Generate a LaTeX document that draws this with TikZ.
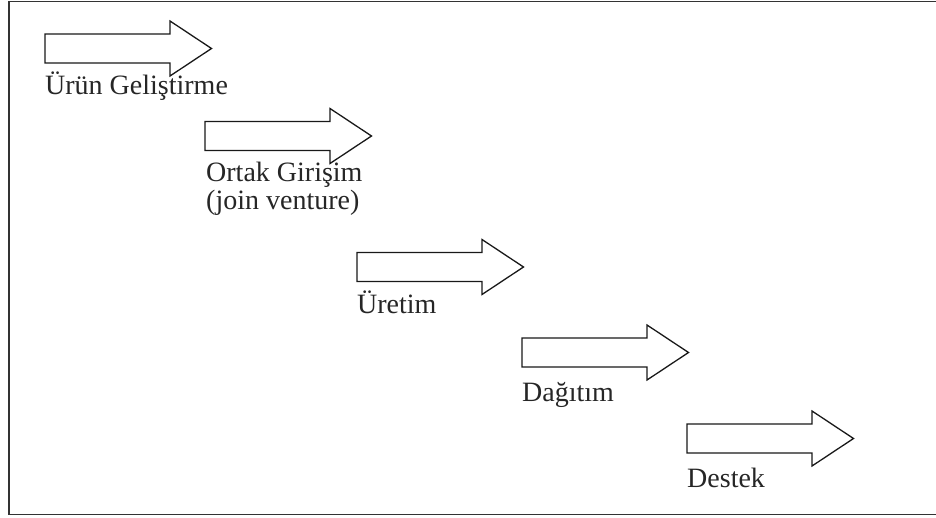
\documentclass[tikz,border=0pt]{standalone}
\usepackage{fontspec}
\setmainfont{Liberation Serif}
\tikzset{
  blockarrow/.style={draw=black!90, line width=1.3pt, fill=white, line join=miter},
  frameline/.style={draw=black!80, line width=1.8pt},
  lbl/.style={anchor=base west, inner sep=0pt, font=\fontsize{28}{29}\selectfont, text=black!85}
}
% x, y = left end and mid-height of shaft (px)
\newcommand{\myblockarrow}[2]{%
  \draw[blockarrow] (#1,-#2+14.5) -- ++(125,0) -- ++(0,13) -- ++(41.5,-27.5)
    -- ++(-41.5,-27.5) -- ++(0,13) -- ++(-125,0) -- cycle;}
\begin{document}
\begin{tikzpicture}[x=1pt,y=1pt]
\useasboundingbox (0,0) rectangle (936,-518);
\fill[white] (0,0) rectangle (936,-518);
\draw[frameline] (936,-1.5) -- (9,-1.5) -- (9,-514.5) -- (936,-514.5);

\myblockarrow{45}{48.5}
\myblockarrow{205}{136}
\myblockarrow{357}{267}
\myblockarrow{522}{352.5}
\myblockarrow{687}{438.5}

\node[lbl] (t1) at (45,-95) {Ürün Geliştirme};
\node[lbl] (t2) at (206,-182) {Ortak Girişim};
\node[lbl] (t2b) at (206,-209.5) {(join venture)};
\node[lbl] (t3) at (357,-313) {Üretim};
\node[lbl] (t4) at (522,-401) {Dağıtım};
\node[lbl] (t5) at (687,-487) {Destek};
\end{tikzpicture}
\end{document}
